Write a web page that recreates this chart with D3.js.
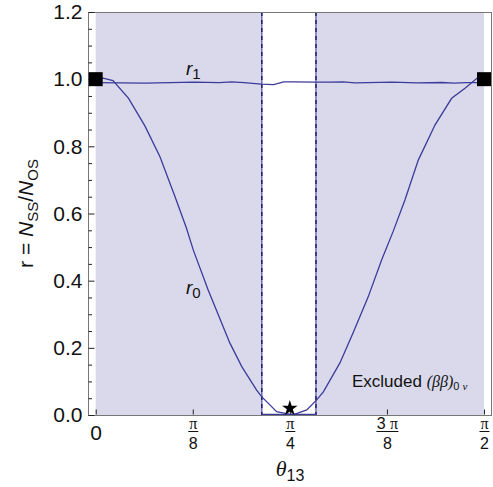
<!DOCTYPE html>
<html>
<head>
<meta charset="utf-8">
<script src="https://cdn.jsdelivr.net/npm/d3@7"></script>
<style>
body{margin:0;background:#fff;}
text{font-family:"Liberation Sans",Helvetica,Arial,sans-serif;fill:#111;}
.ser{font-family:"Liberation Serif","Times New Roman",serif;font-style:italic;}
</style>
</head>
<body>
<script>
// r0 curve
var r0Theta = [0, 0.030, 0.070, 0.133, 0.199, 0.260, 0.321, 0.367, 0.395, 0.455, 0.510, 0.543, 0.591, 0.651, 0.672, 0.732, 0.786, 0.806, 0.854, 0.894, 0.921, 0.988, 1.041, 1.102, 1.157, 1.203, 1.251, 1.305, 1.373, 1.440, 1.494, 1.546, 1.571];
var r0Values = [1.0, 1.003, 0.996, 0.943, 0.861, 0.769, 0.650, 0.557, 0.491, 0.372, 0.273, 0.214, 0.144, 0.074, 0.054, 0.010, 0.002, 0.003, 0.015, 0.045, 0.069, 0.155, 0.244, 0.351, 0.462, 0.546, 0.640, 0.759, 0.864, 0.943, 0.973, 1.005, 1.01];

// r1 curve
var r1Theta = [0, 0.10, 0.20, 0.30, 0.40, 0.50, 0.55, 0.60, 0.67, 0.72, 0.76, 0.80, 0.89, 0.95, 1.00, 1.05, 1.10, 1.20, 1.30, 1.40, 1.45, 1.50, 1.571];
var r1Values = [0.990, 0.989, 0.988, 0.990, 0.991, 0.990, 0.992, 0.990, 0.985, 0.984, 0.992, 0.992, 0.991, 0.991, 0.992, 0.989, 0.990, 0.991, 0.989, 0.990, 0.988, 0.990, 0.990];

var excludedBands = [[0, 0.672], [0.891, 1.5708]];
var allowedBand = [0.672, 0.891];

var endTheta = [0, Math.PI / 2];
var endR = [1.0, 1.0];
var starTheta = [Math.PI / 4];
var starR = [0.02];

var yMajorTicks = [0, 0.2, 0.4, 0.6, 0.8, 1.0, 1.2];
var yTickLabels = ["0.0", "0.2", "0.4", "0.6", "0.8", "1.0", "1.2"];
var yMinorTicks = [0.05, 0.1, 0.15, 0.25, 0.3, 0.35, 0.45, 0.5, 0.55, 0.65, 0.7, 0.75, 0.85, 0.9, 0.95, 1.05, 1.1, 1.15];

var xTickValues = [0, Math.PI / 8, Math.PI / 4, 3 * Math.PI / 8, Math.PI / 2];
var xTickPlain = ["0", "", "", "", ""];
var xTickCoef = ["", "", "", "3", ""];
var xTickDen = ["", "8", "4", "8", "2"];

var W = 493, H = 487;
var margin = {top: 12, bottom: 72, left: 88, right: 1};

var svg = d3.select("body").append("svg").attr("width", W).attr("height", H);

var x = d3.scaleLinear().domain([-0.0311, 1.6032]).range([margin.left, W - margin.right]);
var y = d3.scaleLinear().domain([0, 1.2]).range([H - margin.bottom, margin.top]);

var blue = "#3b3b9b";

// excluded regions
svg.append("g").selectAll("rect").data(excludedBands).enter().append("rect")
    .attr("x", function(d){ return x(d[0]); })
    .attr("width", function(d){ return x(d[1]) - x(d[0]); })
    .attr("y", y(1.2))
    .attr("height", y(0) - y(1.2))
    .attr("fill", "#d9d9eb");

// band edges
var edges = svg.append("g");
allowedBand.forEach(function(t){
    edges.append("line").attr("x1", x(t)).attr("x2", x(t)).attr("y1", y(1.2)).attr("y2", y(0))
        .attr("stroke", "#6c6cb4").attr("stroke-width", 1.5);
    edges.append("line").attr("x1", x(t)).attr("x2", x(t)).attr("y1", y(1.2)).attr("y2", y(0))
        .attr("stroke", "#22226e").attr("stroke-width", 1.5).attr("stroke-dasharray", "4,4");
});
edges.append("line").attr("x1", x(allowedBand[0])).attr("x2", x(allowedBand[1]))
    .attr("y1", y(0) - 0.5).attr("y2", y(0) - 0.5).attr("stroke", blue).attr("stroke-width", 1.5);

// frame
svg.append("rect").attr("x", x.range()[0] + 0.5).attr("y", y(1.2) + 0.5)
    .attr("width", x.range()[1] - x.range()[0] - 1).attr("height", y(0) - y(1.2))
    .attr("fill", "none").attr("stroke", "#777").attr("stroke-width", 1);

// y axis
var yAxis = svg.append("g").attr("transform", "translate(" + (margin.left + 0.5) + ",0)")
    .call(d3.axisLeft(y).tickValues(yMajorTicks).tickSizeInner(-6).tickSizeOuter(0).tickPadding(6)
        .tickFormat(function(d, i){ return yTickLabels[i]; }));
svg.append("g").attr("transform", "translate(" + (margin.left + 0.5) + ",0)")
    .call(d3.axisLeft(y).tickValues(yMinorTicks).tickSizeInner(-3.5).tickSizeOuter(0).tickFormat(""))
    .select(".domain").remove();
yAxis.select(".domain").remove();
yAxis.selectAll("text").style("font-size", "21px").attr("fill", "#111")
    .attr("font-family", "Liberation Sans, Arial, sans-serif");

// x axis
var xAxis = svg.append("g").attr("transform", "translate(0," + (y(0) - 0.5) + ")")
    .call(d3.axisBottom(x).tickValues(xTickValues).tickSizeInner(-5).tickSizeOuter(0).tickFormat(""));
xAxis.select(".domain").remove();
svg.selectAll(".tick line").attr("stroke", "#222");

xAxis.selectAll(".tick").each(function(d, i){
    var g = d3.select(this);
    if (xTickPlain[i]) {
        g.append("text").attr("y", 25).attr("text-anchor", "middle").style("font-size", "21px").text(xTickPlain[i]);
        return;
    }
    var num = g.append("text").attr("y", 14).attr("text-anchor", "middle").style("font-size", "16px");
    if (xTickCoef[i]) num.append("tspan").text(xTickCoef[i] + " ");
    num.append("tspan").attr("class", "ser").style("font-style", "normal").text("π");
    var bw = xTickCoef[i] ? 22 : 10;
    g.append("line").attr("x1", -bw / 2).attr("x2", bw / 2).attr("y1", 17).attr("y2", 17)
        .attr("stroke", "#111").attr("stroke-width", 1);
    g.append("text").attr("y", 34).attr("text-anchor", "middle").style("font-size", "16px").text(xTickDen[i]);
});

// curves
var line = d3.line().x(function(d){ return x(d[0]); }).y(function(d){ return y(d[1]); });
svg.append("path").datum(d3.zip(r1Theta, r1Values)).attr("d", line)
    .attr("fill", "none").attr("stroke", blue).attr("stroke-width", 1.3);
svg.append("path").datum(d3.zip(r0Theta, r0Values)).attr("d", line)
    .attr("fill", "none").attr("stroke", blue).attr("stroke-width", 1.3);

// end point squares
svg.append("g").selectAll("rect").data(d3.zip(endTheta, endR)).enter().append("rect")
    .attr("x", function(d){ return x(d[0]) - 7; })
    .attr("y", function(d){ return y(d[1]) - 7; })
    .attr("width", 14).attr("height", 14).attr("fill", "#000");

// star
svg.append("g").selectAll("path").data(d3.zip(starTheta, starR)).enter().append("path")
    .attr("d", d3.symbol().type(d3.symbolStar).size(75))
    .attr("transform", function(d){ return "translate(" + x(d[0]) + "," + y(d[1]) + ")"; })
    .attr("fill", "#000");

// curve labels
function rLabel(tx, ty, sub){
    var t = svg.append("text").attr("x", tx).attr("y", ty).style("font-size", "19px");
    t.append("tspan").style("font-style", "italic").text("r");
    t.append("tspan").attr("dy", 4).style("font-size", "15px").text(sub);
}
rLabel(186, 75, "1");
rLabel(186, 294, "0");

// excluded label
var ex = svg.append("text").attr("x", 352).attr("y", 387).style("font-size", "17px");
ex.append("tspan").text("Excluded ");
ex.append("tspan").attr("class", "ser").style("font-size", "16px").text("(ββ)");
ex.append("tspan").attr("dy", 3).style("font-size", "11px").text("0 ");
ex.append("tspan").attr("class", "ser").style("font-size", "11px").text("ν");

// x axis title
var xt = svg.append("text").attr("x", 290).attr("y", 476).attr("text-anchor", "middle").style("font-size", "22px");
xt.append("tspan").attr("class", "ser").text("θ");
xt.append("tspan").attr("dy", 5).style("font-size", "16px").text("13");

// y axis title
var yt = svg.append("text").attr("transform", "translate(33," + ((y(0) + y(1.2)) / 2) + ") rotate(-90)")
    .attr("text-anchor", "middle").style("font-size", "21px");
yt.append("tspan").text("r = ");
yt.append("tspan").style("font-style", "italic").text("N");
yt.append("tspan").attr("dy", 5).style("font-size", "15px").text("SS");
yt.append("tspan").attr("dy", -5).text("/");
yt.append("tspan").style("font-style", "italic").text("N");
yt.append("tspan").attr("dy", 5).style("font-size", "15px").text("OS");
</script>
</body>
</html>
